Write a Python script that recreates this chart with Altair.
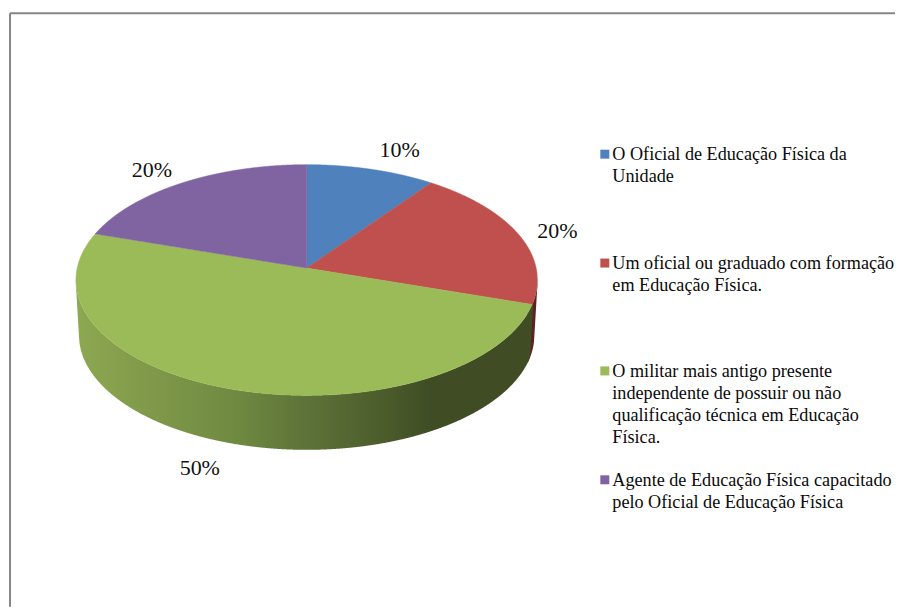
import numpy as np
import pandas as pd
import altair as alt

shares = [10, 20, 50, 20]
pct_labels = ["10%", "20%", "50%", "20%"]
pct_x = [400, 558, 200, 152]
pct_y = [150, 231, 468, 170]
colors = ["#4F81BD", "#C0504D", "#9BBB59", "#8064A2"]
legend_rows = [
    ["O Oficial de Educação Física da", "Unidade"],
    ["Um oficial ou graduado com formação", "em Educação Física."],
    ["O militar mais antigo presente", "independente de possuir ou não",
     "qualificação técnica em Educação", "Física."],
    ["Agente de Educação Física capacitado", "pelo Oficial de Educação Física"],
]
legend_first_y = [155, 264, 372.5, 481]
legend_line_gap = 21.8

W, H = 888, 599
CX, CY, A, B = 307.0, 280.0, 231.0, 115.5
TILT = -0.104
APEX = (CX, CY + TILT * B)


def project(t):
    ux, uy = np.sin(t), -np.cos(t)
    d = 1 + TILT * uy
    return CX + A * ux * np.sqrt(1 - TILT ** 2) / d, CY + B * (uy + TILT) / d


def slice_rows(t0, t1):
    ts = np.linspace(t0, t1, 200)
    px, py = project(ts)
    vx = np.r_[APEX[0], px, APEX[0]]
    vy = np.r_[APEX[1], py, APEX[1]]
    x0, x1 = vx.min() + 1e-4, vx.max() - 1e-4
    xs = np.unique(np.r_[np.arange(x0, x1, 0.5), x1, APEX[0] + 1e-4, APEX[0] - 1e-4,
                         px[0] + 1e-4, px[0] - 1e-4, px[-1] + 1e-4, px[-1] - 1e-4])
    xs = xs[(xs >= x0) & (xs <= x1)]
    rows = []
    for x in xs:
        hit = (vx[:-1] - x) * (vx[1:] - x) <= 0
        a, b = vx[:-1][hit], vx[1:][hit]
        ya, yb = vy[:-1][hit], vy[1:][hit]
        keep = a != b
        if not keep.any():
            continue
        ys = ya[keep] + (x - a[keep]) / (b[keep] - a[keep]) * (yb[keep] - ya[keep])
        rows.append({"x": x, "y": ys.min(), "y2": ys.max()})
    return pd.DataFrame(rows)


def top_lower(x):
    return CY + B * np.sqrt(np.clip(1 - ((x - CX) / A) ** 2, 0, 1))


WALL_DROP_A, WALL_DROP_CY, WALL_DROP_B = 228.0, 335.0, 115.0


def wall_lower(x):
    low = WALL_DROP_CY + WALL_DROP_B * np.sqrt(np.clip(1 - ((x - CX) / WALL_DROP_A) ** 2, 0, 1))
    left = 285 + (x - 76) / 3 * 50
    right = 285 + (538 - x) / 3 * 50
    out = np.where(x < 79, left, low)
    out = np.where(x > 535, right, out)
    return out


xsc = alt.Scale(domain=[8, 8 + W], range=[0, W], nice=False, zero=False)
ysc = alt.Scale(domain=[8, 8 + H], range=[0, H], nice=False, zero=False)
X = alt.X("x:Q", scale=xsc, axis=None)
Y = alt.Y("y:Q", scale=ysc, axis=None)
Y2 = alt.Y2("y2:Q")

layers = []

# frame
frame = pd.DataFrame({"x": [10, 10], "y": [13, 13], "xe": [8 + W, 10], "ye": [13, 8 + H]})
layers.append(alt.Chart(frame).mark_rule(color="#868686", strokeWidth=2).encode(
    x=X, y=Y, x2="xe:Q", y2="ye:Q"))

# side wall
xw = np.arange(76.0, 538.01, 0.5)
ytop = top_lower(xw)
ylow = wall_lower(xw)
red_wall = pd.DataFrame({"x": xw, "y": ytop, "y2": ylow})
red_wall = red_wall[red_wall.x >= 528]
layers.append(alt.Chart(red_wall).mark_area(orient="vertical", color="#5E2220").encode(x=X, y=Y, y2=Y2))

xg = xw[xw <= 534]
g_top = top_lower(xg)
g_low = np.minimum(wall_lower(xg), 303 + (534 - xg) / 3 * 47)
green_wall = pd.DataFrame({"x": xg, "y": g_top, "y2": np.maximum(g_low, g_top)})
grad = alt.Gradient(
    gradient="linear", x1=0, x2=1, y1=0, y2=0,
    stops=[
        alt.GradientStop(offset=0.0, color="#8DA851"),
        alt.GradientStop(offset=0.16, color="#80994A"),
        alt.GradientStop(offset=0.35, color="#6F8A41"),
        alt.GradientStop(offset=0.49, color="#5F7439"),
        alt.GradientStop(offset=0.66, color="#4D5E2D"),
        alt.GradientStop(offset=0.78, color="#3F4C24"),
        alt.GradientStop(offset=1.0, color="#3F4C24"),
    ],
)
layers.append(alt.Chart(green_wall).mark_area(orient="vertical", color=grad).encode(x=X, y=Y, y2=Y2))

# top slices
cum = 0.0
total = sum(shares)
for share, col in zip(shares, colors):
    t0 = cum / total * 2 * np.pi
    cum += share
    t1 = cum / total * 2 * np.pi
    layers.append(alt.Chart(slice_rows(t0, t1)).mark_area(
        orient="vertical", color=col, stroke=col, strokeWidth=0.5).encode(x=X, y=Y, y2=Y2))

# percent labels
pct = pd.DataFrame({"x": pct_x, "y": pct_y, "t": pct_labels})
layers.append(alt.Chart(pct).mark_text(font="Liberation Serif", fontSize=22, color="#111111",
                                       align="center", baseline="middle").encode(x=X, y=Y, text="t:N"))

# legend
square_y = [154, 263, 371, 480]
for yc, c in zip(square_y, colors):
    box = pd.DataFrame({"x": [601, 610], "y": [yc - 4.5, yc - 4.5], "y2": [yc + 4.5, yc + 4.5]})
    layers.append(alt.Chart(box).mark_area(orient="vertical", color=c).encode(x=X, y=Y, y2=Y2))

lines = []
for first, row in zip(legend_first_y, legend_rows):
    for i, s in enumerate(row):
        lines.append({"x": 613, "y": first + i * legend_line_gap, "t": s})
layers.append(alt.Chart(pd.DataFrame(lines)).mark_text(
    font="Liberation Serif", fontSize=18.2, color="#0A0A0A", align="left", baseline="middle"
).encode(x=X, y=Y, text="t:N"))

chart = alt.layer(*layers).properties(width=W, height=H, padding=0, background="white").configure_view(stroke=None)
chart.save("out.html", embed_options={"renderer": "svg", "actions": False})
